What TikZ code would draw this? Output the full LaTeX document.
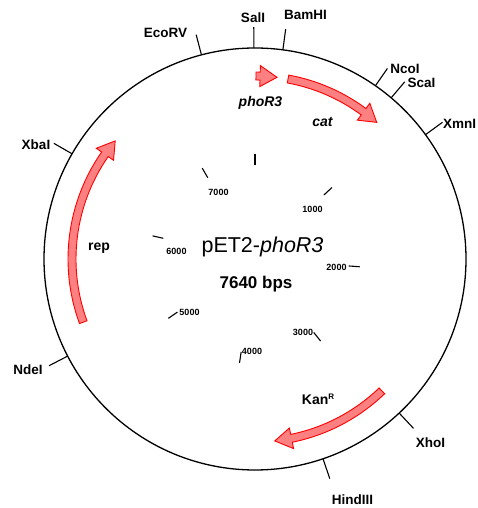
\documentclass[tikz,border=0pt]{standalone}
\usepackage{fontspec}
\setmainfont{Liberation Sans}
\definecolor{featfill}{RGB}{255,128,128}
\tikzset{
  site/.style={font=\fontsize{13.5}{16}\selectfont\bfseries, inner sep=0pt},
  gene/.style={font=\fontsize{14}{16}\selectfont\bfseries\itshape, inner sep=0pt, anchor=base},
  genel/.style={font=\fontsize{14}{16}\selectfont\bfseries, inner sep=0pt, anchor=base},
  num/.style={font=\fontsize{9}{10}\selectfont\bfseries, inner sep=0pt},
  tickline/.style={line width=1.1pt},
  backbone/.style={line width=1.3pt},
  feat/.style={draw=red, fill=featfill, line width=0.9pt, line join=miter},
}
\newcommand\featarrow[2]{%
  \pgfmathsetmacro\hb{#2+5.3}%
  \path[feat] (#1:187pt) arc[start angle=#1, end angle=\hb, radius=187pt]
    -- (\hb:193.5pt) -- (#2:183pt) -- (\hb:172.5pt) -- (\hb:179pt)
    arc[start angle=\hb, end angle=#1, radius=179pt] -- cycle;
}
\begin{document}
\begin{tikzpicture}
\useasboundingbox (0pt,0pt) rectangle (477pt,508pt);
\coordinate (C) at (255pt,249pt);
\draw[backbone] (C) circle[radius=211pt];
\begin{scope}[shift={(C)}]
  % restriction site ticks
  \foreach \nm/\a in {sal/90.3, bam/82.4, eco/104.7, nco/55.2, sca/49.8, xmn/36.1, xba/150.1, nde/207.4, xho/-46.9, hind/-71.2}{
    \coordinate (\nm-in) at (\a:211pt);
    \coordinate (\nm-out) at (\a:232pt);
    \draw[tickline] (\nm-in) -- (\nm-out);
  }
  % scale ticks
  \foreach \p in {0,1,...,7}{
    \pgfmathsetmacro\ang{90-\p*1000/7640*360}
    \coordinate (s\p-in) at (\ang:94pt);
    \coordinate (s\p-out) at (\ang:105pt);
    \draw[tickline] (s\p-in) -- (s\p-out);
  }
  % features
  \featarrow{89.7}{83.1}
  \featarrow{79.6}{48.3}
  \featarrow{200.2}{139.8}
  \featarrow{-46.1}{-83.8}
\end{scope}
% site labels
\node[site] (salI) at (253pt,490pt) {SalI};
\node[site] (bamHI) at (305.5pt,493pt) {BamHI};
\node[site] (ecoRV) at (165.5pt,475pt) {EcoRV};
\node[site] (ncoI) at (405pt,439pt) {NcoI};
\node[site] (scaI) at (421.5pt,425pt) {ScaI};
\node[site] (xmnI) at (459.5pt,384pt) {XmnI};
\node[site] (xbaI) at (36pt,363.5pt) {XbaI};
\node[site] (ndeI) at (28pt,138.5pt) {NdeI};
\node[site] (xhoI) at (430.5pt,65pt) {XhoI};
\node[site] (hindIII) at (352.5pt,8pt) {HindIII};
% number labels
\node[num] (n7000) at (218.5pt,316pt) {7000};
\node[num] (n1000) at (312.5pt,299pt) {1000};
\node[num] (n2000) at (336.5pt,241pt) {2000};
\node[num] (n3000) at (303pt,176pt) {3000};
\node[num] (n4000) at (252pt,157pt) {4000};
\node[num] (n5000) at (189.5pt,196pt) {5000};
\node[num] (n6000) at (176.5pt,257pt) {6000};
% gene labels
\node[gene] (phoR3) at (260.5pt,401pt) {phoR3};
\node[gene] (cat) at (322.5pt,381.3pt) {cat};
\node[genel] (rep) at (99pt,257.3pt) {rep};
\node[genel] (kan) at (318pt,103pt) {Kan\raisebox{5pt}{\fontsize{8}{8}\selectfont R}};
% title
\node[font=\fontsize{21.5}{24}\selectfont, inner sep=0pt, anchor=base] (title) at (262.5pt,255.3pt) {pET2-\textit{phoR3}};
\node[font=\fontsize{17}{20}\selectfont\bfseries, inner sep=0pt, anchor=base] (size) at (256pt,219.7pt) {7640 bps};
\end{tikzpicture}
\end{document}
